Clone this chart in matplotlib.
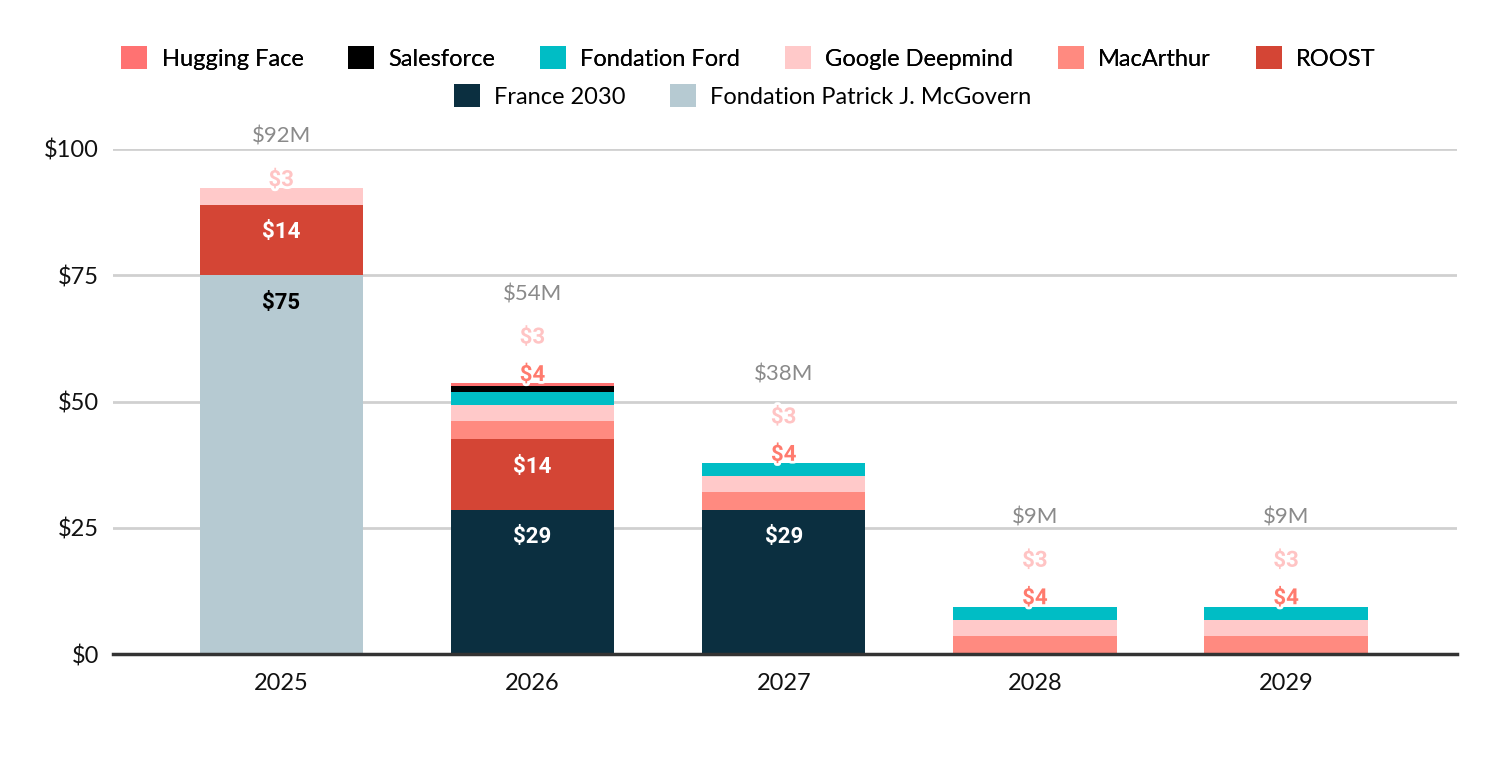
import matplotlib.pyplot as plt
import matplotlib.patheffects as pe
import numpy as np

plt.rcParams['font.family'] = ['Lato', 'DejaVu Sans']

years = ['2025', '2026', '2027', '2028', '2029']

# values in $M
france_2030 = [0, 28.6, 28.6, 0, 0]
patrick_mcgovern = [75, 0, 0, 0, 0]
roost = [14, 14, 0, 0, 0]
macarthur = [0, 3.5, 3.5, 3.5, 3.5]
google_deepmind = [3.2, 3.2, 3.2, 3.2, 3.2]
fondation_ford = [0, 2.5, 2.5, 2.7, 2.7]
salesforce = [0, 1.3, 0, 0, 0]
hugging_face = [0, 0.5, 0, 0, 0]

# stacking order bottom -> top
stack = [
    ('France 2030', france_2030, '#0b2f40'),
    ('Fondation Patrick J. McGovern', patrick_mcgovern, '#b6cad2'),
    ('ROOST', roost, '#d44535'),
    ('MacArthur', macarthur, '#ff8a80'),
    ('Google Deepmind', google_deepmind, '#ffc9c9'),
    ('Fondation Ford', fondation_ford, '#00bdc5'),
    ('Salesforce', salesforce, '#000000'),
    ('Hugging Face', hugging_face, '#ff7272'),
]
legend_row1 = ['Hugging Face', 'Salesforce', 'Fondation Ford', 'Google Deepmind', 'MacArthur', 'ROOST']
legend_row2 = ['France 2030', 'Fondation Patrick J. McGovern']

fig = plt.figure(figsize=(15, 7.59), dpi=100)
ax = fig.add_axes([0.0753, 0.1383, 0.896, 0.6654])

x = np.arange(len(years))
width = 0.65
bottom = np.zeros(len(years))
handles = {}
for name, vals, color in stack:
    vals = np.array(vals, dtype=float)
    bars = ax.bar(x, vals, width, bottom=bottom, color=color, label=name, zorder=3)
    handles[name] = bars
    for i, v in enumerate(vals):
        if v >= 10:
            txt_color = '#000000' if name == 'Fondation Patrick J. McGovern' else 'white'
            ax.annotate(f'${v:.0f}', (x[i], bottom[i] + v), xytext=(0, -20),
                        textcoords='offset points', ha='center', va='center',
                        fontsize=16, fontweight='bold', color=txt_color,
                        family=['Roboto', 'DejaVu Sans'], zorder=5)
    bottom += vals

# labels above the bars: small segments, then the total
totals = bottom
above = [('MacArthur', macarthur, '#ff7b6e'), ('Google Deepmind', google_deepmind, '#ffc4c4')]
for i in range(len(years)):
    off = 6
    for name, vals, color in above:
        if vals[i] > 0:
            ax.annotate(f'${vals[i]:.0f}', (x[i], totals[i]), xytext=(0, off),
                        textcoords='offset points', ha='center', va='center',
                        fontsize=16, fontweight='bold', color=color,
                        family=['Roboto', 'DejaVu Sans'], zorder=6,
                        path_effects=[pe.withStroke(linewidth=4, foreground='white')])
            off += 27
    ax.annotate(f'${totals[i]:.0f}M', (x[i], totals[i]), xytext=(0, off + 4),
                textcoords='offset points', ha='center', va='center',
                fontsize=16, color='#8a8a8a', zorder=6)

ax.set_xlim(-0.67, 4.68)
ax.set_ylim(0, 100)
ax.set_yticks([0, 25, 50, 75, 100])
ax.set_yticklabels(['$0', '$25', '$50', '$75', '$100'])
ax.set_xticks(x)
ax.set_xticklabels(years)
ax.tick_params(axis='both', length=0, labelsize=17, colors='#111111')
ax.tick_params(axis='x', pad=14)
ax.tick_params(axis='y', pad=10)
ax.grid(axis='y', color='#d0d0d0', linewidth=2, zorder=0)
for s in ['top', 'right', 'left']:
    ax.spines[s].set_visible(False)
ax.spines['bottom'].set_color('#333333')
ax.spines['bottom'].set_linewidth(2.5)
ax.spines['bottom'].set_zorder(4)

leg_kw = dict(frameon=False, fontsize=17, handlelength=1.1, handleheight=1.1,
              handletextpad=0.6, columnspacing=1.9, loc='center')
leg1 = fig.legend([handles[n] for n in legend_row1], legend_row1, ncol=6,
                  bbox_to_anchor=(0.499, 1 - 58 / 759), **leg_kw)
fig.add_artist(leg1)
fig.legend([handles[n] for n in legend_row2], legend_row2, ncol=2,
           bbox_to_anchor=(0.495, 1 - 96 / 759), **leg_kw)

fig.savefig('out.png', dpi=100, facecolor='white')
